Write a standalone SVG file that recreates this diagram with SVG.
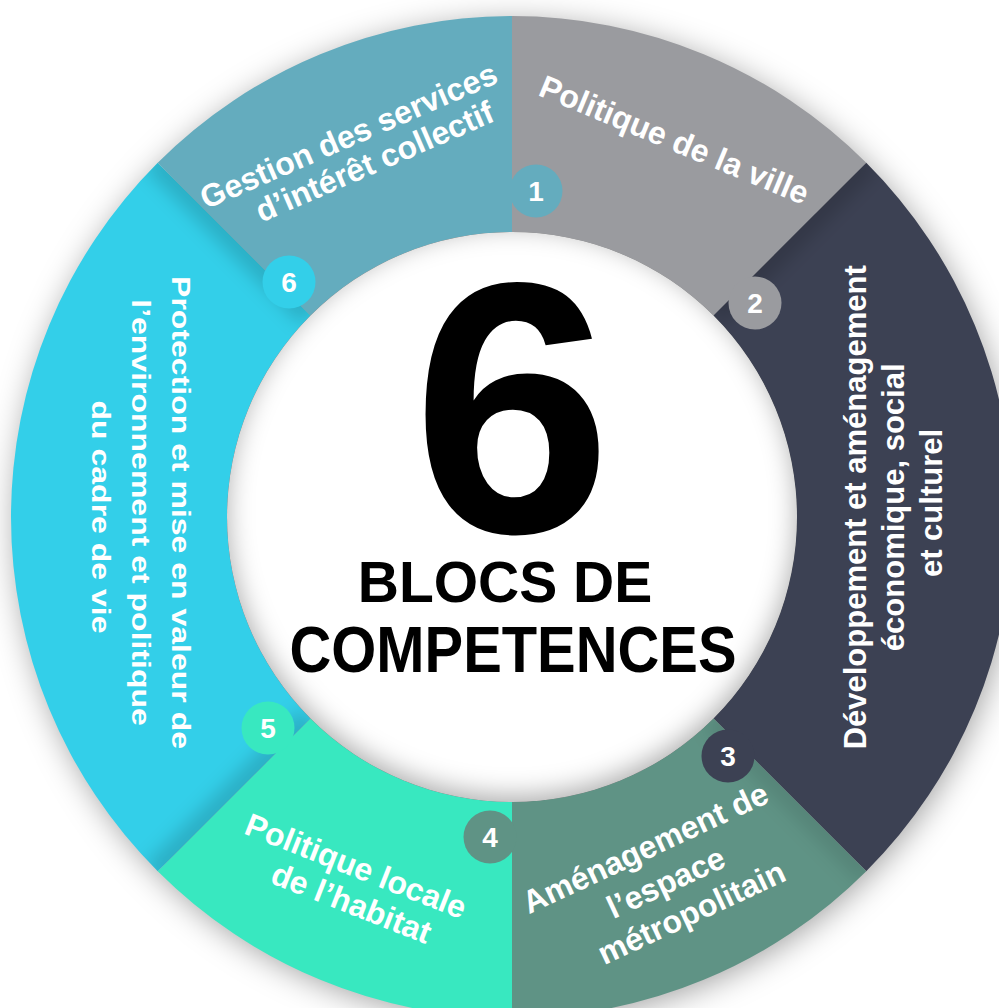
<svg xmlns="http://www.w3.org/2000/svg" width="999" height="1008" viewBox="0 0 999 1008">
  <defs>
    <style>
      .lbl { font-family: "Liberation Sans", Arial, sans-serif; font-weight: bold; fill: #ffffff; font-size: 32px; text-anchor: middle; }
      .num { font-family: "Liberation Sans", Arial, sans-serif; font-weight: bold; fill: #ffffff; font-size: 28px; text-anchor: middle; }
      .big { font-family: "Liberation Sans", Arial, sans-serif; font-weight: bold; fill: #000000; text-anchor: middle; }
      .shade { stroke: #000000; stroke-opacity: 0.16; stroke-width: 26; fill: none; }
    </style>
    <filter id="outerBlur" x="-20%" y="-20%" width="140%" height="140%">
      <feGaussianBlur stdDeviation="16"/>
    </filter>
    <filter id="innerBlur" x="-20%" y="-20%" width="140%" height="140%">
      <feGaussianBlur stdDeviation="13"/>
    </filter>
    <filter id="shadeBlur" x="-50%" y="-50%" width="200%" height="200%">
      <feGaussianBlur stdDeviation="9"/>
    </filter>
    <path id="p1" d="M512,16 A501,501 0 0 1 866.26,162.74 L713.53,315.47 A285,285 0 0 0 512,232 Z"/>
    <path id="p2" d="M866.26,162.74 A501,501 0 0 1 866.26,871.26 L713.53,718.53 A285,285 0 0 0 713.53,315.47 Z"/>
    <path id="p3" d="M866.26,871.26 A501,501 0 0 1 512,1018 L512,802 A285,285 0 0 0 713.53,718.53 Z"/>
    <path id="p4" d="M512,1018 A501,501 0 0 1 157.74,871.26 L310.47,718.53 A285,285 0 0 0 512,802 Z"/>
    <path id="p5" d="M157.74,871.26 A501,501 0 0 1 157.74,162.74 L310.47,315.47 A285,285 0 0 0 310.47,718.53 Z"/>
    <path id="p6" d="M157.74,162.74 A501,501 0 0 1 512,16 L512,232 A285,285 0 0 0 310.47,315.47 Z"/>
    <clipPath id="c1"><use href="#p1"/></clipPath>
    <clipPath id="c2"><use href="#p2"/></clipPath>
    <clipPath id="c3"><use href="#p3"/></clipPath>
    <clipPath id="c4"><use href="#p4"/></clipPath>
    <clipPath id="c5"><use href="#p5"/></clipPath>
    <clipPath id="innerClip">
      <circle cx="512" cy="517" r="285"/>
    </clipPath>
  </defs>

  <rect x="0" y="0" width="999" height="1008" fill="#ffffff"/>

  <!-- outer drop shadow of the ring -->
  <circle cx="515" cy="522" r="499" fill="#000" fill-opacity="0.38" filter="url(#outerBlur)"/>

  <g id="node-1">
    <use href="#p1" fill="#9a9b9f"/>
    <g clip-path="url(#c1)">
      <line class="shade" x1="512" y1="232" x2="512" y2="10" filter="url(#shadeBlur)"/>
    </g>
    <circle cx="536" cy="191" r="26.5" fill="#64acbe"/>
    <text class="num" x="536" y="201">1</text>
    <text class="lbl" transform="translate(670,150) rotate(22.5)">Politique de la ville</text>
  </g>

  <g id="node-2">
    <use href="#p2" fill="#3c4153"/>
    <g clip-path="url(#c2)">
      <line class="shade" x1="713.53" y1="315.47" x2="870" y2="159" filter="url(#shadeBlur)"/>
    </g>
    <circle cx="755" cy="303" r="26.5" fill="#9a9b9f"/>
    <text class="num" x="755" y="313">2</text>
    <text class="lbl" style="font-size:31px" transform="translate(866,503) rotate(-90)">
      <tspan x="0" y="0">Développement et aménagement</tspan>
      <tspan x="0" y="38">économique, social</tspan>
      <tspan x="0" y="76">et culturel</tspan>
    </text>
  </g>

  <g id="node-3">
    <use href="#p3" fill="#5f9385"/>
    <g clip-path="url(#c3)">
      <line class="shade" x1="713.53" y1="718.53" x2="870" y2="875" filter="url(#shadeBlur)" style="stroke-opacity:0.1"/>
    </g>
    <circle cx="728" cy="756" r="26.5" fill="#3c4153"/>
    <text class="num" x="728" y="766">3</text>
    <text class="lbl" transform="translate(654,856) rotate(-25)">
      <tspan x="0" y="0">Aménagement de</tspan>
      <tspan x="4" y="40">l’espace</tspan>
      <tspan x="10" y="78">métropolitain</tspan>
    </text>
  </g>

  <g id="node-4">
    <use href="#p4" fill="#38e8c0"/>
    <g clip-path="url(#c4)">
      <line class="shade" x1="512" y1="802" x2="512" y2="1020" filter="url(#shadeBlur)" style="stroke-opacity:0.08"/>
    </g>
    <circle cx="490" cy="837" r="26.5" fill="#5f9385"/>
    <text class="num" x="490" y="847">4</text>
    <text class="lbl" transform="translate(356,878) rotate(21.5)">
      <tspan x="0" y="0">Politique locale</tspan>
      <tspan x="5" y="36">de l’habitat</tspan>
    </text>
  </g>

  <g id="node-5">
    <use href="#p5" fill="#33cfe9"/>
    <g clip-path="url(#c5)">
      <line class="shade" x1="310.47" y1="718.53" x2="154" y2="875" filter="url(#shadeBlur)"/>
      <line class="shade" x1="310.47" y1="315.47" x2="154" y2="159" filter="url(#shadeBlur)"/>
    </g>
    <circle cx="268" cy="728" r="26.5" fill="#38e8c0"/>
    <text class="num" x="268" y="738">5</text>
    <text class="lbl" transform="translate(172,517) rotate(90) scale(1,0.8)">
      <tspan x="0" y="0">Protection et mise en valeur de</tspan>
      <tspan x="0" y="50">l’environnement et politique</tspan>
      <tspan x="0" y="100">du cadre de vie</tspan>
    </text>
  </g>

  <g id="node-6">
    <use href="#p6" fill="#64acbe"/>
    <circle cx="289" cy="282" r="26.5" fill="#33cfe9"/>
    <text class="num" x="289" y="292">6</text>
    <text class="lbl" transform="translate(357,144) rotate(-23.5)">
      <tspan x="0" y="0">Gestion des services</tspan>
      <tspan x="9" y="34">d’intérêt collectif</tspan>
    </text>
  </g>

  <!-- central disc -->
  <g id="center">
    <g clip-path="url(#innerClip)">
      <circle cx="512" cy="517" r="285" fill="#ffffff"/>
      <circle cx="512" cy="511" r="312" fill="none" stroke="#000" stroke-opacity="0.32" stroke-width="54" filter="url(#innerBlur)"/>
    </g>
    <text class="big" x="512" y="532" style="font-size:358px">6</text>
    <text class="big" x="505" y="602" style="font-size:57px">BLOCS DE</text>
    <text class="big" x="513" y="672" style="font-size:64px" textLength="447" lengthAdjust="spacingAndGlyphs">COMPETENCES</text>
  </g>
</svg>
